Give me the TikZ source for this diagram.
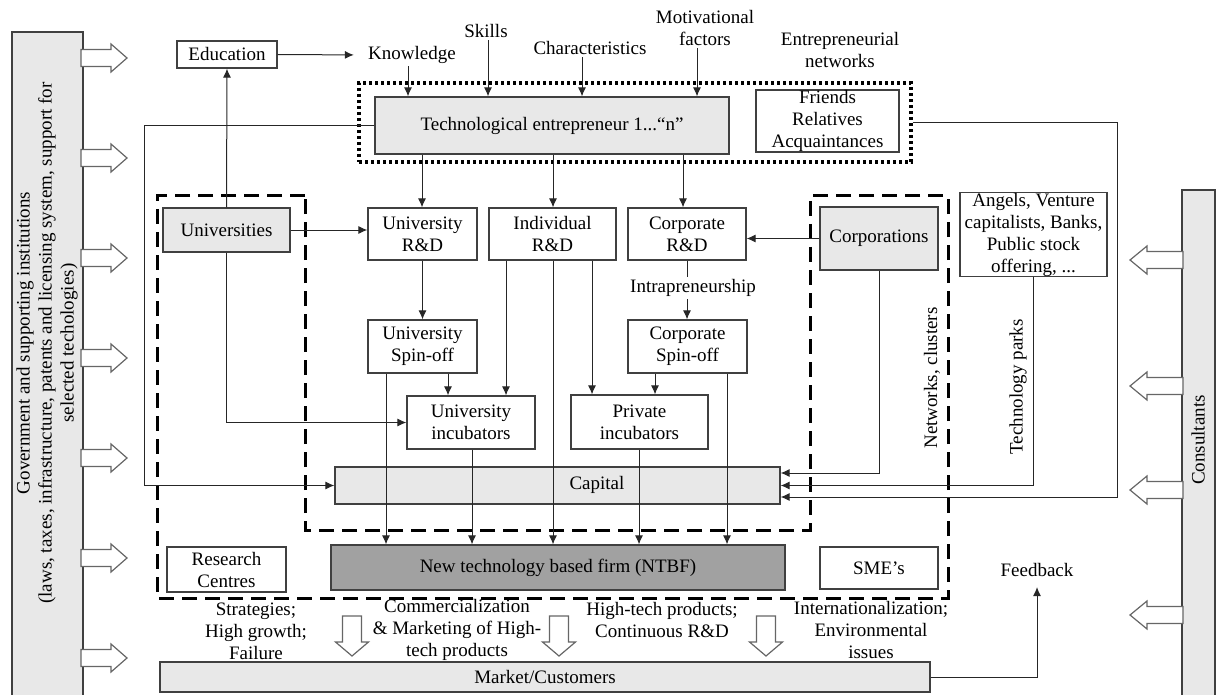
\documentclass[tikz,border=0pt]{standalone}
\usepackage{fontspec}
\setmainfont{Liberation Serif}
\usetikzlibrary{arrows.meta,calc}
\begin{document}
\begin{tikzpicture}[x=0.5pt,y=-0.5pt,
  font=\fontsize{9.5}{11}\selectfont,
  box/.style={draw=black!75, line width=0.6pt, fill=white, align=center, inner sep=0pt},
  gbox/.style={box, fill=black!9},
  lbl/.style={align=center, inner sep=1pt},
  arr/.style={draw=black!85, line width=0.5pt, -{Latex[length=4.5pt,width=4pt]}},
  ln/.style={draw=black!85, line width=0.5pt},
  dashbox/.style={draw=black, line width=1.5pt, dash pattern=on 7.5pt off 4pt},
  dotbox/.style={draw=black, line width=1.6pt, dash pattern=on 1.6pt off 1.4pt, inner sep=0pt},
  blk/.style={draw=black!60, fill=white, line width=0.6pt},
  rblk/.pic={\draw[blk] (0,-8.5) -- (30,-8.5) -- (30,-14) -- (46,0) -- (30,14) -- (30,8.5) -- (0,8.5) -- cycle;},
  lblk/.pic={\draw[blk] (0,0) -- (17,-14) -- (17,-8.5) -- (53,-8.5) -- (53,8.5) -- (17,8.5) -- (17,14) -- cycle;},
  dblk/.pic={\draw[blk] (-9.5,0) -- (9.5,0) -- (9.5,26) -- (16.5,26) -- (0,40) -- (-16.5,26) -- (-9.5,26) -- cycle;}
]
\useasboundingbox (0,0) rectangle (1219,695);

% side bars
\node[gbox, minimum width=35.5pt, minimum height=334pt] (gov) at (47.5,366) {};
\node[lbl, rotate=90] (govtxt) at (47,343) {Government and supporting institutions\\(laws, taxes, infrastructure, patents and licensing system, support for\\selected techologies)};
\node[gbox, minimum width=16.5pt, minimum height=255pt] (cons) at (1198.5,445) {};
\node[lbl, rotate=90] (constxt) at (1198,440) {Consultants};

% block arrows
\foreach \yy in {58,158,258,358,458,558,658} \pic at (81,\yy) {rblk};
\foreach \yy in {260,386,490,615} \pic at (1130,\yy) {lblk};
\foreach \xx in {352,559,766} \pic at (\xx,616) {dblk};

% dashed region
\draw[dashbox] (305,196) -- (157,196) -- (157,598) -- (948,598) -- (948,196) -- (810,196) -- (810,530) -- (305,530) -- cycle;

% top part
\node[box, minimum width=50pt, minimum height=13.5pt] (edu) at (227,54.5) {Education};
\node[lbl] (know) at (412,55) {Knowledge};
\node[lbl] (skills) at (486,31) {Skills};
\node[lbl] (char) at (590,48) {Characteristics};
\node[lbl] (motiv) at (705,28) {Motivational\\factors};
\node[lbl] (entnet) at (840,50) {Entrepreneurial\\networks};
\node[dotbox, minimum width=276pt, minimum height=39.5pt] (grp) at (635,122.5) {};
\node[gbox, minimum width=177pt, minimum height=28.5pt] (tech) at (552,125.5) {Technological entrepreneur 1...“n”};
\node[box, minimum width=71.5pt, minimum height=31pt] (friends) at (827.5,121) {Friends\\Relatives\\Acquaintances};

% middle boxes
\node[gbox, minimum width=63.5pt, minimum height=22pt] (univ) at (226.5,230) {Universities};
\node[box, minimum width=54.5pt, minimum height=26pt] (urd) at (422.5,234) {University\\R\&D};
\node[box, minimum width=63.5pt, minimum height=26pt] (ird) at (552.5,234) {Individual\\R\&D};
\node[box, minimum width=59pt, minimum height=26pt] (crd) at (687,234) {Corporate\\R\&D};
\node[gbox, minimum width=59pt, minimum height=31.5pt] (corp) at (879,238.5) {Corporations};
\node[box, minimum width=73.5pt, minimum height=41.5pt] (ang) at (1033.5,234.5) {Angels, Venture\\capitalists, Banks,\\Public stock\\offering, ...};
\node[lbl] (intra) at (693,288) {Intrapreneurship};
\node[box, minimum width=54.5pt, minimum height=26.5pt] (usp) at (422.5,346.5) {University\\Spin-off};
\node[box, minimum width=59.5pt, minimum height=26.5pt] (csp) at (687.5,346.5) {Corporate\\Spin-off};
\node[box, minimum width=64pt, minimum height=26.5pt] (uinc) at (471,422.5) {University\\incubators};
\node[box, minimum width=68.5pt, minimum height=27pt] (pinc) at (639.5,422) {Private\\incubators};
\node[gbox, minimum width=222.5pt, minimum height=18.5pt] (cap) at (557.5,485.5) {};
\node[lbl] (captxt) at (597,485) {Capital};
\node[lbl, rotate=90] (netw) at (932,378) {Networks, clusters};
\node[lbl, rotate=90] (techp) at (1018,387) {Technology parks};

% bottom
\node[box, fill=black!37, minimum width=227pt, minimum height=22.5pt] (ntbf) at (558,567.5) {New technology based firm (NTBF)};
\node[box, minimum width=59.5pt, minimum height=22.5pt] (rc) at (226.5,569.5) {Research\\Centres};
\node[box, minimum width=59pt, minimum height=21pt] (sme) at (879,568) {SME’s};
\node[lbl] (fb) at (1037,570) {Feedback};
\node[lbl] (strat) at (256,631) {Strategies;\\High growth;\\Failure};
\node[lbl] (comm) at (457,630) {Commercialization\\\& Marketing of High-\\tech products};
\node[lbl] (hitech) at (662,620) {High-tech products;\\Continuous R\&D};
\node[lbl] (intl) at (871,630) {Internationalization;\\Environmental\\issues};
\node[gbox, minimum width=385pt, minimum height=15pt] (mkt) at (545,677) {Market/Customers};

% connectors
\draw[arr, shorten >=6pt] (edu.east) -- (know.west);
\draw[arr] (univ.north) -- (edu.south);
\draw[arr] (know.south -| 408,0) -- (tech.north -| 408,0);
\draw[arr] (skills.south -| 488,0) -- (tech.north -| 488,0);
\draw[arr] (char.south -| 582,0) -- (tech.north -| 582,0);
\draw[arr] (motiv.south -| 697,0) -- (tech.north -| 697,0);
\draw[arr] (tech.south -| 422,0) -- (urd.north -| 422,0);
\draw[arr] (tech.south -| 553,0) -- (ird.north -| 553,0);
\draw[arr] (tech.south -| 683,0) -- (crd.north -| 683,0);
\draw[arr] (tech.west) -- ++(-230,0) |- (cap.west);
\draw[arr] (grp.east) -- ++(205,0) |- ($(cap.east)+(0,11.5)$);
\draw[arr] (ang.south) |- (cap.east);
\draw[arr] (corp.south) |- ($(cap.east)+(0,-12.5)$);
\draw[arr] (corp.west) -- (crd.east |- corp.west);
\draw[arr] (univ.east) -- (urd.west |- univ.east);
\draw[arr] (univ.south) |- (uinc.west);
\draw[arr] (urd.south) -- (usp.north);
\draw[ln] (crd.south) -- (intra.north -| crd.south);
\draw[arr] (intra.south -| crd.south) -- (csp.north -| crd.south);
\draw[arr] (usp.south -| 448,0) -- (uinc.north -| 448,0);
\draw[arr] (ird.south -| 506,0) -- (uinc.north -| 506,0);
\draw[arr] (ird.south -| 553,0) -- (ntbf.north -| 553,0);
\draw[arr] (ird.south -| 592,0) -- (pinc.north -| 592,0);
\draw[arr] (csp.south -| 655,0) -- (pinc.north -| 655,0);
\draw[arr] (csp.south -| 727,0) -- (ntbf.north -| 727,0);
\draw[arr] (usp.south -| 386,0) -- (ntbf.north -| 386,0);
\draw[arr] (uinc.south -| 472,0) -- (ntbf.north -| 472,0);
\draw[arr] (pinc.south -| 639,0) -- (ntbf.north -| 639,0);
\draw[arr, shorten >=4pt] (mkt.east) -| (fb.south);
\end{tikzpicture}
\end{document}
